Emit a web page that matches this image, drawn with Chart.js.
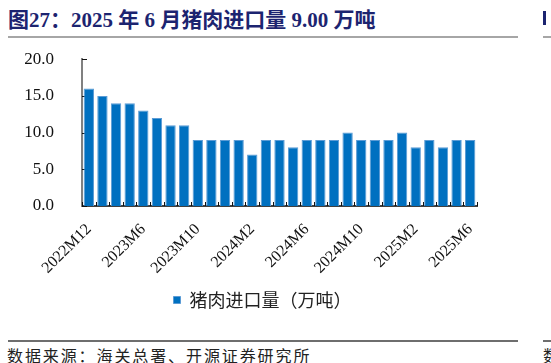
<!DOCTYPE html>
<html>
<head>
<meta charset="utf-8">
<script src="https://cdn.jsdelivr.net/npm/chart.js@4.4.0/dist/chart.umd.min.js"></script>
<style>
  html, body { margin: 0; padding: 0; background: #fff; }
  body { width: 551px; height: 363px; position: relative; overflow: hidden; }
  #title { position: absolute; left: 8px; top: 3px; white-space: nowrap;
    font: bold 21px "Liberation Serif", "Noto Sans CJK SC", serif; color: #1c2470; }
  .rule { position: absolute; height: 2px; }
  #source { position: absolute; left: 7px; top: 343px; white-space: nowrap; letter-spacing: 1.9px;
    font: 16px "Noto Sans CJK SC", sans-serif; color: #222; }
  #wrap { position: absolute; left: 0; top: 29px; width: 551px; height: 290px; }
  .cut { position: absolute; left: 543px; width: 8px; overflow: hidden; white-space: nowrap; }
</style>
</head>
<body>
<div id="title">图27：2025 年 6 月猪肉进口量 9.00 万吨</div>
<div class="rule" style="left:8px;top:36px;width:510px;background:#a6a6a6;"></div>
<div class="rule" style="left:543px;top:36px;width:8px;background:#a6a6a6;"></div>
<div class="cut" style="top:11px;height:14px;background:#1c2470;width:3px;"></div>
<div id="wrap"><canvas id="chart"></canvas></div>
<div class="rule" style="left:8px;top:340px;width:510px;background:#6e6e6e;"></div>
<div class="rule" style="left:543px;top:340px;width:8px;background:#6e6e6e;"></div>
<div id="source">数据来源：海关总署、开源证券研究所</div>
<div class="cut" style="top:343px;font:16px 'Noto Sans CJK SC';color:#222;">数据</div>

<script>
// 猪肉进口量（万吨），海关总署
const months = [
  "2022M12", "2023M3", "2023M4", "2023M5", "2023M6", "2023M7", "2023M8", "2023M9",
  "2023M10", "2023M11", "2023M12", "2024M1", "2024M2", "2024M3", "2024M4", "2024M5",
  "2024M6", "2024M7", "2024M8", "2024M9", "2024M10", "2024M11", "2024M12", "2025M1",
  "2025M2", "2025M3", "2025M4", "2025M5", "2025M6",
];
const porkImports = [
  16, 15, 14, 14, 13, 12, 11, 11,
  9, 9, 9, 9, 7, 9, 9, 8,
  9, 9, 9, 10, 9, 9, 9, 10,
  8, 9, 8, 9, 9,
];
const yTicks = [0, 5, 10, 15, 20];
const seriesName = "猪肉进口量（万吨）";

const COLORS = {
  bar:    "#0070C0",
  barEdge:"#5B9BD5",
  axisX:  "#404040",
  axisY:  "#808080",
  tick:   "#111",
  text:   "#111",
};

// small inward tick marks, like the Excel original
const innerTicks = {
  id: "innerTicks",
  beforeDatasetsDraw(chart) {
    const { ctx } = chart;
    const x = chart.scales.x, y = chart.scales.y;
    const area = chart.chartArea;
    ctx.save();
    ctx.strokeStyle = COLORS.tick;
    ctx.lineWidth = 1;
    ctx.beginPath();
    const half = (x.getPixelForValue(1) - x.getPixelForValue(0)) / 2;
    for (let i = 0; i <= months.length; i++) {
      const px = Math.round(x.getPixelForValue(i) - half) + 0.5;
      ctx.moveTo(px, area.bottom);
      ctx.lineTo(px, area.bottom - 4);
    }
    yTicks.forEach((v) => {
      const py = Math.round(y.getPixelForValue(v)) + 0.5;
      ctx.moveTo(area.left, py);
      ctx.lineTo(area.left + 5, py);
    });
    ctx.stroke();
    ctx.restore();
  },
};

new Chart(document.getElementById("chart"), {
  type: "bar",
  data: {
    labels: months,
    datasets: [{
      label: seriesName,
      data: porkImports,
      backgroundColor: COLORS.bar,
      borderColor: COLORS.barEdge,
      borderWidth: 1,
      categoryPercentage: 1,
      barPercentage: 0.76,
    }],
  },
  options: {
    responsive: true,
    maintainAspectRatio: false,
    animation: false,
    layout: { padding: { left: 0, right: 26, top: 9, bottom: 0 } },
    plugins: {
      tooltip: { enabled: false },
      legend: {
        position: "bottom",
        labels: {
          boxWidth: 7,
          boxHeight: 7,
          padding: 10,
          color: "#222",
          font: { family: "'Noto Sans CJK SC', sans-serif", size: 18 },
        },
      },
    },
    scales: {
      x: {
        grid: { display: false },
        border: { color: COLORS.axisX, width: 2 },
        ticks: {
          autoSkip: false,
          maxRotation: 45,
          minRotation: 45,
          padding: 6,
          color: COLORS.text,
          font: { family: "'Liberation Serif', serif", size: 16 },
          callback: (v, i) => (i % 4 === 0 ? months[i] : ""),
        },
        afterFit: (s) => { s.height = 75; },
      },
      y: {
        min: 0,
        max: 20,
        grid: { display: false },
        border: { color: COLORS.axisY, width: 2 },
        ticks: {
          stepSize: 5,
          padding: 20,
          color: COLORS.text,
          font: { family: "'Liberation Serif', serif", size: 17 },
          callback: (v) => v.toFixed(1),
        },
        afterFit: (s) => { s.width = 82; },
      },
      // empty spacer on the right so the legend centres where the original does
      y2: {
        position: "right",
        grid: { display: false },
        border: { display: false },
        ticks: { display: false },
        afterFit: (s) => { s.width = 48; },
      },
    },
  },
  plugins: [innerTicks],
});
</script>
</body>
</html>
